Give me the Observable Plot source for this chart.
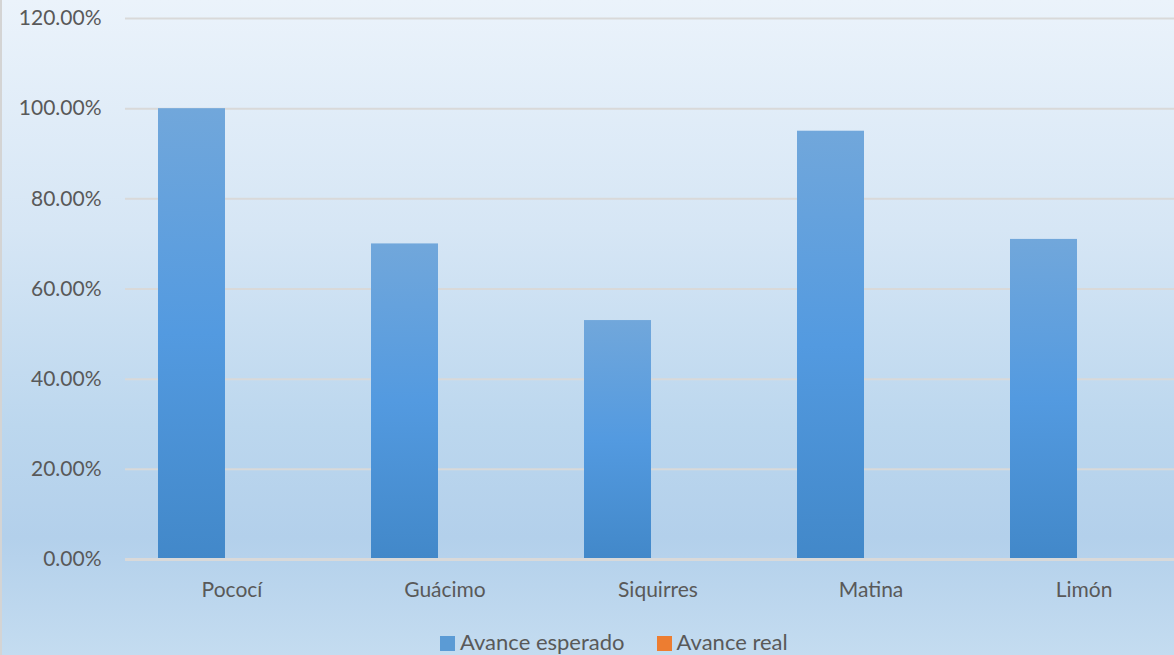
<!DOCTYPE html>
<html>
<head>
<meta charset="utf-8">
<script src="https://cdn.jsdelivr.net/npm/d3@7"></script>
<script src="https://cdn.jsdelivr.net/npm/@observablehq/plot@0.6"></script>
<style>
  html, body { margin: 0; padding: 0; }
  body {
    width: 1174px; height: 655px; overflow: hidden; position: relative;
    background: linear-gradient(to bottom, #ebf3fb 0%, #d6e6f5 35%, #bcd7ee 65%, #b3d0eb 82%, #c4dcf0 100%);
    font-family: Lato, "Open Sans", sans-serif;
  }
  #border { position: absolute; left: 0; top: 0; width: 2px; height: 655px; background: #d4d4d4; }
  #chart { position: absolute; left: 0; top: 0; width: 1174px; height: 615px; overflow: hidden; }
  #chart svg { overflow: hidden; max-width: none !important; }
  #legend { position: absolute; top: 629px; left: 440px; font-size: 22px; color: #595959; display: flex; gap: 32px; line-height: 26px; }
  #legend span.sw { display: inline-block; width: 15px; height: 15px; margin-right: 5px; vertical-align: -1px; }
</style>
</head>
<body>
<div id="border"></div>
<div id="chart"></div>
<div id="legend"></div>
<script>
const categories = ["Pococí", "Guácimo", "Siquirres", "Matina", "Limón"];
const series = ["Avance esperado", "Avance real"];
const esperado = [1.00, 0.70, 0.53, 0.95, 0.71];
const real = [0, 0, 0, 0, 0];
const yTicks = [0, 0.2, 0.4, 0.6, 0.8, 1.0, 1.2];
const colors = ["url(#gradBlue)", "#ed7d31"];

const data = [];
categories.forEach((c, i) => {
  data.push({cat: c, serie: series[0], v: esperado[i]});
  data.push({cat: c, serie: series[1], v: real[i]});
});

const fmt = d => (d * 100).toFixed(2) + "%";

const plot = Plot.plot({
  width: 1190,
  height: 615,
  marginLeft: 125,
  marginRight: 0,
  marginTop: 18,
  marginBottom: 56,
  style: {background: "transparent", fontFamily: "Lato, 'Open Sans', sans-serif", fontSize: "21px", color: "#595959", maxWidth: "none"},
  fx: {domain: categories, padding: 0, label: null, axis: null},
  x: {domain: series, paddingInner: 0.16, paddingOuter: 0.4, axis: null},
  y: {domain: [0, 1.2], range: [559, 18], label: null, grid: false, axis: null},
  color: {domain: series, range: colors},
  marks: [
    Plot.ruleY(yTicks.filter(d => d > 0), {stroke: "#d9d9d9", strokeWidth: 2}),
    Plot.barY(data, {fx: "cat", x: "serie", y: "v", fill: "serie", style: "filter: drop-shadow(0px 1px 2px rgba(0,0,0,0.35))"}),
    Plot.ruleY([0], {stroke: "#d9d9d9", strokeWidth: 3}),
    Plot.axisY({ticks: yTicks, tickFormat: fmt, tickSize: 0, tickPadding: 24, fontSize: 21, fill: "#595959", label: null}),
    Plot.axisFx({anchor: "bottom", tickSize: 0, tickPadding: 23, fontSize: 21, fill: "#595959", label: null})
  ]
});

const defs = `<defs><linearGradient id="gradBlue" x1="0" y1="0" x2="0" y2="1">
  <stop offset="0%" stop-color="#71a7db"/>
  <stop offset="50%" stop-color="#539ae0"/>
  <stop offset="100%" stop-color="#4288c9"/>
</linearGradient></defs>`;
plot.insertAdjacentHTML("afterbegin", defs);
document.getElementById("chart").appendChild(plot);

const legendColors = ["#5b9bd5", "#ed7d31"];
const legend = document.getElementById("legend");
series.forEach((s, i) => {
  const item = document.createElement("div");
  item.innerHTML = `<span class="sw" style="background:${legendColors[i]}"></span>${s}`;
  legend.appendChild(item);
});
</script>
</body>
</html>
